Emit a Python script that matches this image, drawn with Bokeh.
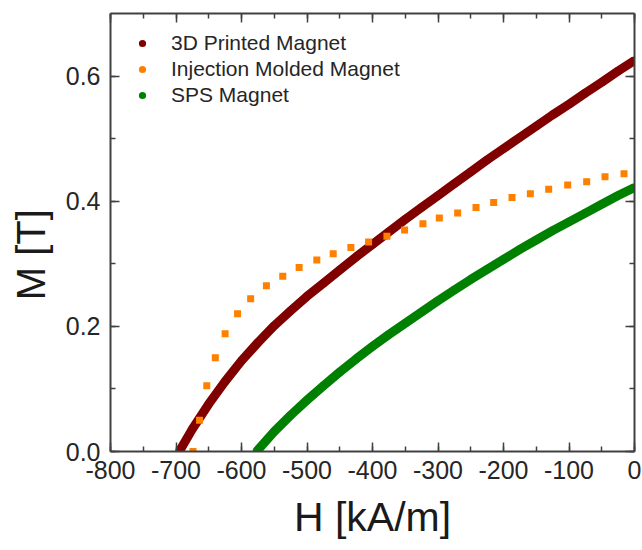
from bokeh.plotting import figure
from bokeh.models import (Range1d, LinearAxis, SingleIntervalTicker, PrintfTickFormatter,
                          Legend, LegendItem, CustomLabelingPolicy)
from bokeh.embed import file_html
from bokeh.resources import INLINE

# ---- data ----
h_printed = [-695, -675, -650, -625, -600, -575, -550, -525, -500, -475, -450, -425, -400,
             -375, -350, -325, -300, -275, -250, -225, -200, -175, -150, -125, -100, -75, -50, -25, 0]
m_printed = [0.000, 0.036, 0.076, 0.112, 0.145, 0.174, 0.201, 0.225, 0.248, 0.269, 0.290, 0.311, 0.331,
             0.351, 0.371, 0.390, 0.409, 0.428, 0.447, 0.466, 0.484, 0.502, 0.520, 0.538, 0.555, 0.573, 0.590, 0.608, 0.625]

h_injection = [-674, -664, -653, -640, -625, -606, -586, -562, -537, -512, -485, -460, -433, -406,
               -378, -351, -323, -298, -270, -242, -215, -187, -159, -131, -102, -73, -45, -16]
m_injection = [0.000, 0.050, 0.105, 0.150, 0.188, 0.220, 0.244, 0.265, 0.280, 0.294, 0.306, 0.316, 0.326, 0.335,
               0.344, 0.354, 0.364, 0.373, 0.381, 0.390, 0.398, 0.406, 0.412, 0.419, 0.426, 0.431, 0.439, 0.444]

h_sps = [-577, -550, -525, -500, -475, -450, -425, -400, -375, -350, -325, -300, -275, -250,
         -225, -200, -175, -150, -125, -100, -75, -50, -25, 0]
m_sps = [0.000, 0.032, 0.058, 0.082, 0.105, 0.127, 0.148, 0.168, 0.187, 0.205, 0.223, 0.241, 0.258, 0.275,
         0.291, 0.307, 0.323, 0.338, 0.353, 0.367, 0.381, 0.395, 0.409, 0.422]

series_names = ["3D Printed Magnet", "Injection Molded Magnet", "SPS Magnet"]
series_colors = ["#800000", "#ff8000", "#008000"]

x_label = "H [kA/m]"
y_label = "M [T]"

FONT = "Liberation Sans"
AX_COLOR = "#404040"
TXT_COLOR = "#262626"

p = figure(width=642, height=550, output_backend="svg", toolbar_location=None,
           x_range=Range1d(-800, 0), y_range=Range1d(0, 0.7),
           min_border_left=110, min_border_right=8, min_border_top=13, min_border_bottom=99,
           background_fill_color="white", border_fill_color="white")
p.xgrid.visible = False
p.ygrid.visible = False
p.outline_line_color = None

xt = SingleIntervalTicker(interval=100, num_minor_ticks=2)
yt = SingleIntervalTicker(interval=0.2, num_minor_ticks=2)

def style_axis(ax, ticker, show_labels):
    ax.ticker = ticker
    ax.axis_line_color = AX_COLOR
    ax.axis_line_width = 2
    ax.major_tick_line_color = AX_COLOR
    ax.minor_tick_line_color = AX_COLOR
    ax.major_tick_line_width = 1.5
    ax.minor_tick_line_width = 1.5
    ax.major_tick_in = 9
    ax.major_tick_out = 0
    ax.minor_tick_in = 5
    ax.minor_tick_out = 0
    if show_labels:
        ax.major_label_text_font = FONT
        ax.major_label_text_font_size = "25px"
        ax.major_label_text_color = TXT_COLOR
        ax.axis_label_text_font = FONT
        ax.axis_label_text_font_style = "normal"
        ax.axis_label_text_color = "#1a1a1a"
    else:
        # mirror axis: ticks only, no labels drawn
        ax.major_label_policy = CustomLabelingPolicy(code="return new Set()")
        ax.major_label_text_font_size = "1px"
        ax.major_label_standoff = 0

xa = p.xaxis[0]
ya = p.yaxis[0]
style_axis(xa, xt, True)
style_axis(ya, yt, True)
xa.formatter = PrintfTickFormatter(format="%d")
ya.formatter = PrintfTickFormatter(format="%.1f")
xa.axis_label = x_label
# trailing no-break spaces shift the vertical label slightly downward, as in the reference
ya.axis_label = y_label + "\u00a0\u00a0\u00a0\u00a0"
xa.axis_label_text_font_size = "41px"
ya.axis_label_text_font_size = "40px"
xa.major_label_standoff = 9
ya.major_label_standoff = 10
xa.axis_label_standoff = 12
ya.axis_label_standoff = 10

top_ax = LinearAxis()
style_axis(top_ax, xt, False)
right_ax = LinearAxis()
style_axis(right_ax, yt, False)
p.add_layout(top_ax, "above")
p.add_layout(right_ax, "right")

# legend dot renderers drawn under the curves (they use the series data)
dot_printed = p.scatter(h_printed, m_printed, marker="circle", size=8,
                        fill_color=series_colors[0], line_color=None)
dot_injection = p.scatter(h_injection, m_injection, marker="circle", size=6,
                          fill_color=series_colors[1], line_color=None)
dot_sps = p.scatter(h_sps, m_sps, marker="circle", size=8,
                    fill_color=series_colors[2], line_color=None)

# curves
p.line(h_printed, m_printed, line_color=series_colors[0], line_width=9, line_join="round")
p.line(h_sps, m_sps, line_color=series_colors[2], line_width=9, line_join="round")
p.scatter(h_injection, m_injection, marker="square", size=7,
          fill_color=series_colors[1], line_color=None)

leg_items = [LegendItem(label=n, renderers=[r], index=0)
             for n, r in zip(series_names, [dot_printed, dot_injection, dot_sps])]

legend = Legend(items=leg_items, location="top_left",
                margin=18, padding=0, spacing=2,
                glyph_width=28, glyph_height=18, label_standoff=15,
                label_text_font=FONT, label_text_font_size="21px",
                label_text_color=TXT_COLOR,
                border_line_color=None, background_fill_alpha=0)
p.add_layout(legend, "center")

open("out.html", "w").write(file_html(p, INLINE))
